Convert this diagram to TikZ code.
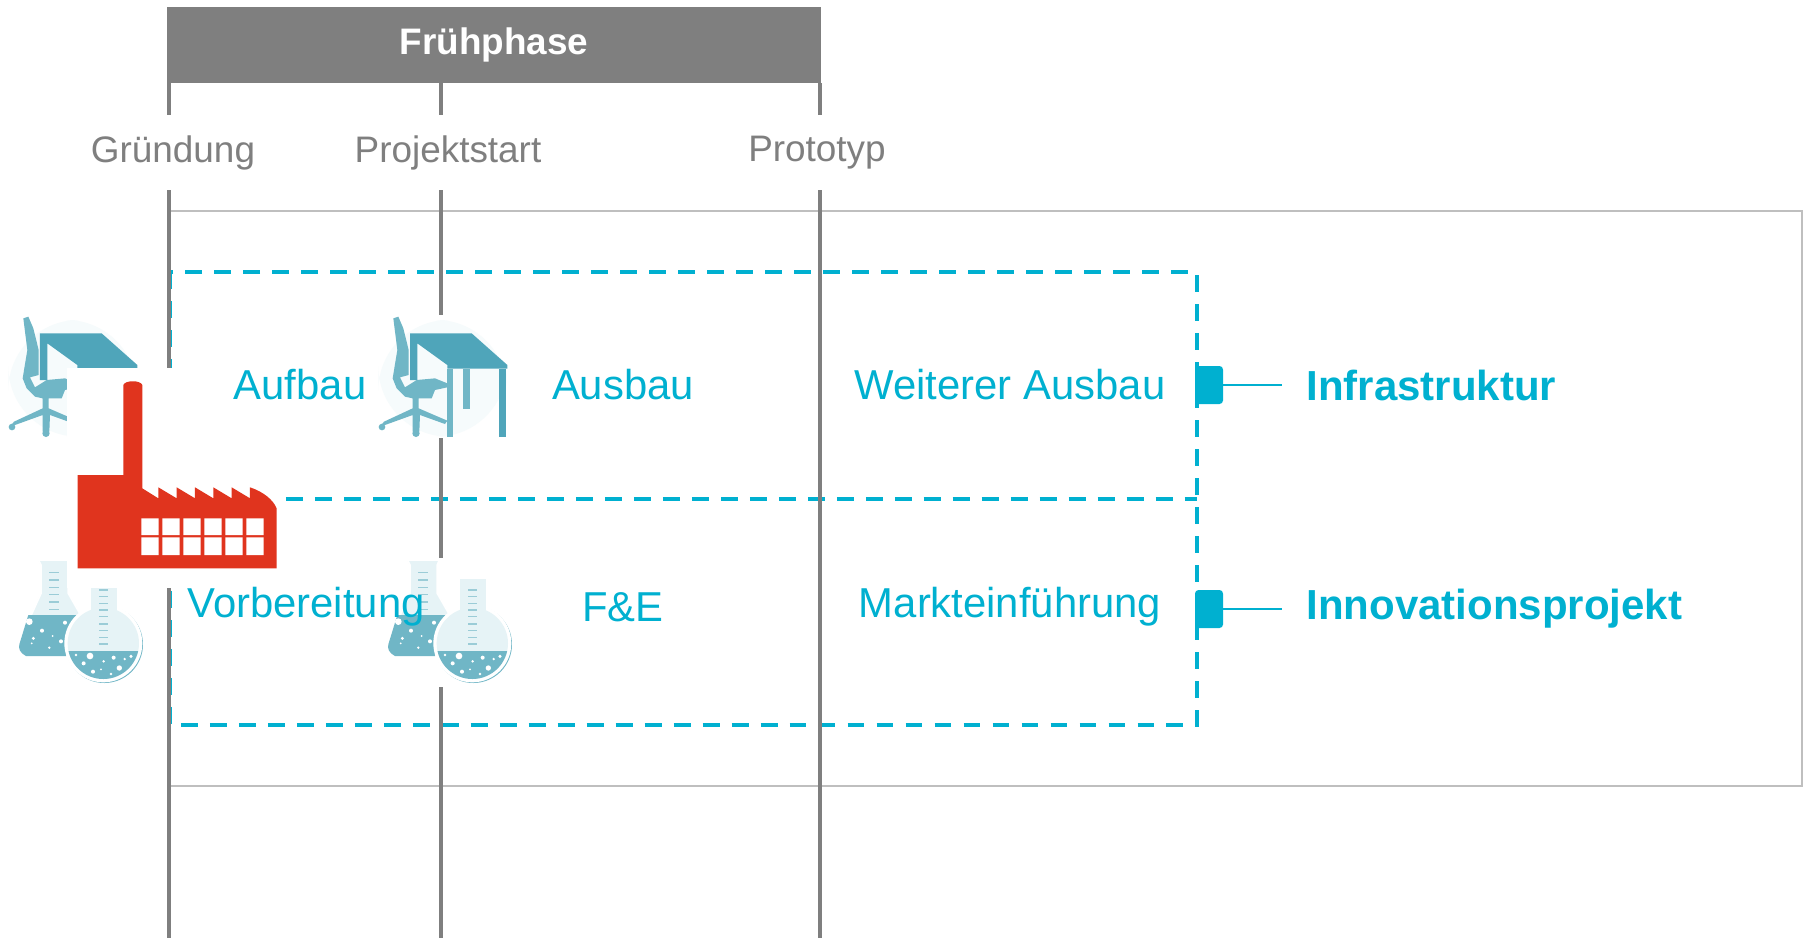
\documentclass[tikz,border=0pt]{standalone}
\usepackage{fontspec}
\setmainfont{Liberation Sans}
\usepackage{xcolor}
\definecolor{phasegray}{HTML}{7F7F7F}
\definecolor{framegray}{HTML}{BFBFBF}
\definecolor{cyanblue}{HTML}{00B0D0}
\definecolor{iconteal}{HTML}{70B6C6}
\definecolor{deepteal}{HTML}{4FA5BA}
\definecolor{palefill}{HTML}{E6F3F6}
\definecolor{factoryred}{HTML}{E0341E}
\tikzset{
  mile/.style={draw=phasegray, line width=2.3pt},
  frame/.style={draw=framegray, line width=1.1pt},
  dashbox/.style={draw=cyanblue, line width=2pt, dash pattern=on 9.6pt off 6.9pt},
  milelabel/.style={fill=white, inner sep=0pt, minimum height=1.5cm, text=phasegray, font=\fontsize{21}{25}\selectfont},
  area/.style={inner sep=0pt, text=cyanblue, font=\fontsize{23.8}{28}\selectfont},
  topic/.style={anchor=west, inner sep=0pt, text=cyanblue, font=\fontsize{23.9}{28}\selectfont\bfseries},
  marker/.style={fill=cyanblue, rounded corners=2pt, minimum width=0.56cm, minimum height=0.76cm, inner sep=0pt},
  pics/deskicon/.style={code={
    \begin{scope}[scale=1/3]
      \fill[white] (54,45) rectangle (444,414);
      \fill[iconteal!6, rounded corners=40pt] (55,60) rectangle (440,410);
      \fill[iconteal] (100,55) -- (115,50) -- (130,85) -- (146,150) -- (146,225) -- (120,232) -- (135,262) -- (170,240) -- (225,235) -- (262,250) -- (262,262) -- (225,270) -- (215,295) -- (176,295) -- (176,325) -- (262,362) -- (255,372) -- (180,345) -- (178,395) -- (158,395) -- (158,345) -- (75,375) -- (60,380) -- (72,365) -- (158,325) -- (158,295) -- (135,290) -- (110,265) -- (98,235) -- (112,150) -- cycle;
      \fill[iconteal] (168,400) circle (11);
      \fill[iconteal] (66,381) circle (10);
      \fill[deepteal] (150,100) -- (335,100) -- (442,195) -- (442,206) -- (262,206) -- (262,195) -- (172,130) -- (172,240) -- (150,240) -- cycle;
      \fill[iconteal] (262,206) rectangle (280,410);
      \fill[iconteal] (310,206) rectangle (331,328);
      \fill[deepteal] (416,206) rectangle (438,410);
    \end{scope}
  }},
  pics/flaskicon/.style={code={
    \begin{scope}[scale=1/3]
      \fill[white] (80,258*3) rectangle (456,387*3);
      \fill[palefill, draw=white, line width=1pt] (142,780) -- (238,780) -- (232,795) -- (232,880) -- (272,950) -- (225,1066) -- (105,1066) .. controls (85,1060) and (78,1045) .. (82,1030) -- (150,880) -- (150,795) -- cycle;
      \fill[iconteal] (112,945) -- (255,945) -- (268,965) -- (225,1068) -- (105,1068) .. controls (88,1060) and (80,1045) .. (86,1030) -- cycle;
      \fill[white] (115,965) circle (10);
      \fill[white] (153,992) circle (6);
      \fill[white] (210,1024) circle (6);
      \fill[white] (175,1043) circle (4);
      \fill[white] (127,1015) circle (5);
      \fill[white] (222,968) circle (6);
      \fill[white] (122,1030) circle (3);
      \fill[white] (185,1008) circle (3);
      \draw[iconteal!70, line width=0.7pt] (175,818) -- (203,818) (175,840) -- (203,840) (175,862) -- (203,862) (175,884) -- (203,884) (175,906) -- (203,906) (175,928) -- (203,928);
      \fill[iconteal] (340,1033) circle (116);
      \fill[white] (337,1030) circle (117);
      \fill[white] (292,825) rectangle (388,950);
      \fill[palefill] (300,838) rectangle (378,950);
      \fill[palefill] (337,1030) circle (107);
      \begin{scope}
        \clip (337,1030) circle (107);
        \fill[iconteal] (220,1052) rectangle (460,1145);
      \end{scope}
      \fill[white] (297,1068) circle (10);
      \fill[white] (385,1104) circle (8);
      \fill[white] (306,1115) circle (6);
      \fill[white] (338,1084) circle (4);
      \fill[white] (368,1073) circle (6);
      \fill[white] (401,1077) circle (4);
      \fill[white] (420,1069) circle (5);
      \fill[white] (255,1065) circle (4);
      \fill[white] (278,1090) circle (6);
      \fill[white] (360,1122) circle (4);
      \fill[white] (330,1108) circle (3);
      \draw[iconteal!70, line width=0.7pt] (325,870) -- (352,870) (325,890) -- (352,890) (325,910) -- (352,910) (325,930) -- (352,930) (325,950) -- (352,950) (325,972) -- (352,972) (325,992) -- (352,992) (325,1012) -- (352,1012) (325,1032) -- (352,1032);
    \end{scope}
  }},
  pics/factoryicon/.style={code={
    \begin{scope}[scale=1/3]
      \fill[white] (200,205) rectangle (855,865);
      \fill[factoryred] (233,525) -- (370,525) -- (370,255) .. controls (375,240) and (422,240) .. (427,255) -- (427,565) -- (475,595) -- (475,562) -- (530,595) -- (530,562) -- (585,595) -- (585,562) -- (640,595) -- (640,562) -- (695,595) -- (695,562) -- (750,595) -- (750,562) .. controls (790,575) and (820,600) .. (830,625) -- (830,805) -- (233,805) -- cycle;
      \fill[white] (424,655) rectangle (476,705) (424,712) rectangle (476,765);
      \fill[white] (487,655) rectangle (539,705) (487,712) rectangle (539,765);
      \fill[white] (550,655) rectangle (602,705) (550,712) rectangle (602,765);
      \fill[white] (613,655) rectangle (665,705) (613,712) rectangle (665,765);
      \fill[white] (676,655) rectangle (728,705) (676,712) rectangle (728,765);
      \fill[white] (739,655) rectangle (791,705) (739,712) rectangle (791,765);
    \end{scope}
  }}
}
\begin{document}
\begin{tikzpicture}[x=0.02cm, y=-0.02cm]
  \useasboundingbox (0,0) rectangle (1806,938);

  \coordinate (gruendungtop) at (169,83);
  \coordinate (gruendungend) at (169,938);
  \coordinate (starttop) at (441,83);
  \coordinate (startend) at (441,938);
  \coordinate (prototop) at (820,83);
  \coordinate (protoend) at (820,938);

  \draw[frame] (169,211) rectangle (1802,786);
  \draw[dashbox] (170,272) rectangle (1197,725);
  \draw[dashbox] (170,499) -- (1197,499);

  \draw[mile] (gruendungtop) -- (gruendungend);
  \draw[mile] (starttop) -- (startend);
  \draw[mile] (prototop) -- (protoend);

  \node[fill=phasegray, minimum width=13.08cm, minimum height=1.52cm, inner sep=0pt, text=white, font=\fontsize{21}{25}\selectfont\bfseries] (phase) at (494,45) {Frühphase};

  \node[milelabel] (gruendung) at (173,152.5) {Gründung};
  \node[milelabel] (projektstart) at (448,152.5) {Projektstart};
  \node[milelabel] (prototyp) at (817,152.5) {Prototyp};

  \pic (deskone) at (-10,300) {deskicon};
  \pic (desktwo) at (360,300) {deskicon};
  \pic (flaskone) at (-9,300) {flaskicon};
  \pic (flasktwo) at (360,300) {flaskicon};
  \pic (factory) at (0,300) {factoryicon};

  \node[area] (aufbau) at (300,385) {Aufbau};
  \node[area] (ausbau) at (623,385) {Ausbau};
  \node[area] (weiter) at (1010,385) {Weiterer Ausbau};
  \node[area] (vorbereitung) at (306,607) {Vorbereitung};
  \node[area] (fue) at (623,607) {F\&E};
  \node[area] (markt) at (1010,607) {Markteinführung};

  \node[marker] (inframark) at (1209,385) {};
  \node[marker] (innomark) at (1209,609) {};
  \coordinate (infraend) at (1282,385);
  \coordinate (innoend) at (1282,609);
  \draw[cyanblue, line width=1.1pt] (inframark) -- (infraend);
  \draw[cyanblue, line width=1.1pt] (innomark) -- (innoend);

  \node[topic] (infra) at (1306,385) {Infrastruktur};
  \node[topic] (inno) at (1306,609) {Innovationsprojekt};
\end{tikzpicture}
\end{document}
